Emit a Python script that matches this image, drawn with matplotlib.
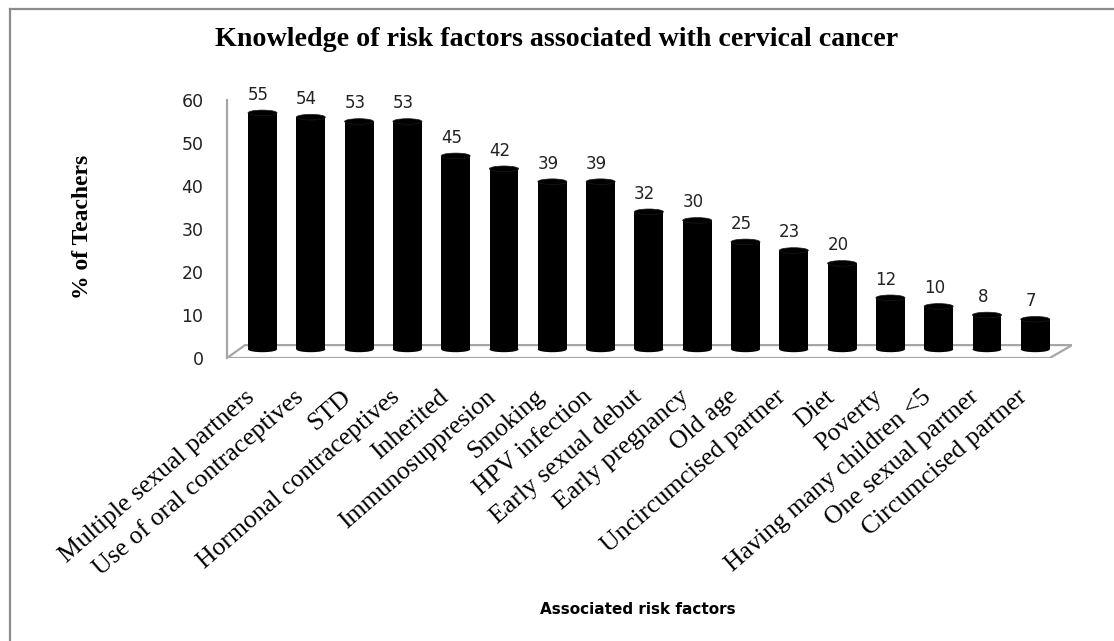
import matplotlib.pyplot as plt
from matplotlib.patches import Rectangle, Ellipse, Polygon
from matplotlib.lines import Line2D
import matplotlib.transforms as mtransforms

factors = ["Multiple sexual partners", "Use of oral contraceptives", "STD",
           "Hormonal contraceptives", "Inherited", "Immunosuppresion", "Smoking",
           "HPV infection", "Early sexual debut", "Early pregnancy", "Old age",
           "Uncircumcised partner", "Diet", "Poverty", "Having many children <5",
           "One sexual partner", "Circumcised partner"]
percent = [55, 54, 53, 53, 45, 42, 39, 39, 32, 30, 25, 23, 20, 12, 10, 8, 7]
yticks = [0, 10, 20, 30, 40, 50, 60]

W, H = 1114, 641
fig = plt.figure(figsize=(W / 100, H / 100), dpi=100)

def box(x0, y0, x1, y1):
    # pixel box (top-left origin) -> figure fraction
    return [x0 / W, 1 - y1 / H, (x1 - x0) / W, (y1 - y0) / H]

ax = fig.add_axes(box(227, 100, 1072, 358))
ax.set_xlim(-0.735, 16.76)
ax.set_ylim(0, 60)

# 3d look: depth of floor and where the cylinders stand
depth_x, depth_y = 0.373, 3.0
base = 2.0
bar_w = 0.6
cap_h = 1.3
grey = "#a6a6a6"

floor = Polygon([(-0.735, 0), (16.3, 0), (16.3 + depth_x + 0.09, depth_y),
                 (-0.735 + depth_x, depth_y)], closed=True,
                fc="white", ec=grey, lw=1.6, zorder=1)
ax.add_patch(floor)

for i, v in enumerate(percent):
    ax.add_patch(Ellipse((i, base), bar_w, cap_h, fc="black", ec="none", zorder=3))
    ax.add_patch(Rectangle((i - bar_w / 2, base), bar_w, v, fc="black", ec="none", zorder=3))
    ax.add_patch(Ellipse((i, base + v), bar_w, cap_h, fc="black", ec="#1a1a1a",
                         lw=0.5, zorder=4))
    ax.annotate(str(v), (i, base + v), xytext=(-3, 13), textcoords="offset points",
                ha="center", va="center", fontsize=12, color="#222222",
                family="DejaVu Sans")

for s in ["top", "right", "bottom"]:
    ax.spines[s].set_visible(False)
ax.spines["left"].set_color(grey)
ax.spines["left"].set_linewidth(1.6)

ax.set_yticks(yticks)
ax.tick_params(axis="y", length=0, pad=17, labelsize=12.5, labelcolor="#222222")
for lab in ax.get_yticklabels():
    lab.set_family("DejaVu Sans")

ax.set_xticks(range(len(factors)))
ax.set_xticklabels(factors, rotation=41, ha="right", va="top",
                   rotation_mode="anchor", fontsize=18.5, family="Liberation Serif")
ax.tick_params(axis="x", length=0, pad=20)
shift = mtransforms.ScaledTranslation(-0.18, 0, fig.dpi_scale_trans)
for lab in ax.get_xticklabels():
    lab.set_transform(lab.get_transform() + shift)

fig.text(557 / W, 1 - 40 / H, "Knowledge of risk factors associated with cervical cancer",
         ha="center", va="center", fontsize=20.2, fontweight="bold", family="Liberation Serif")
fig.text(83 / W, 1 - 227 / H, "% of Teachers", rotation=90, ha="center", va="center",
         fontsize=17, fontweight="bold", family="Liberation Serif")
fig.text(638 / W, 1 - 609 / H, "Associated risk factors", ha="center", va="center",
         fontsize=11, fontweight="bold", family="DejaVu Sans")

# chart frame, only left and top edges are in the picture
fig.add_artist(Line2D([10 / W, 10 / W], [0, 1 - 9 / H], color="#8c8c8c", lw=1.6))
fig.add_artist(Line2D([10 / W, 1], [1 - 9 / H, 1 - 9 / H], color="#8c8c8c", lw=1.6))

fig.savefig("out.png", dpi=100)
